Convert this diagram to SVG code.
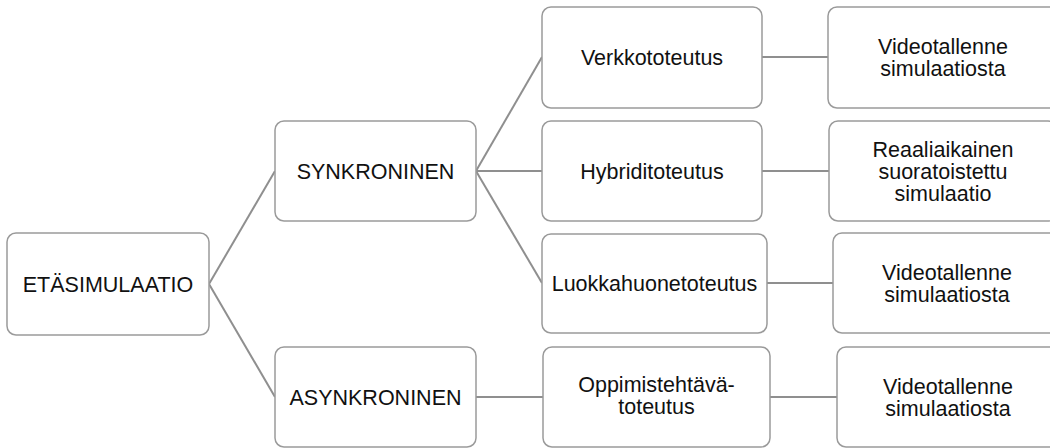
<svg xmlns="http://www.w3.org/2000/svg" width="1050" height="448" viewBox="0 0 1050 448">
<style>
.box{fill:#fff;stroke:#9a9a9a;stroke-width:1.5}
.lbl{font-family:"Liberation Sans",Arial,sans-serif;font-size:21.5px;fill:#111;text-anchor:middle}
.con{stroke:#8f8f8f;stroke-width:2;fill:none}
</style>
<rect width="1050" height="448" fill="#fff"/>
<g id="connectors">
<line class="con" x1="209" y1="284" x2="275" y2="171"/>
<line class="con" x1="209" y1="284" x2="275" y2="397"/>
<line class="con" x1="476" y1="171" x2="542" y2="57"/>
<line class="con" x1="476" y1="171" x2="542" y2="171"/>
<line class="con" x1="476" y1="171" x2="542" y2="283"/>
<line class="con" x1="476" y1="397" x2="543" y2="397"/>
<line class="con" x1="762" y1="57" x2="828" y2="57"/>
<line class="con" x1="762" y1="171" x2="829" y2="171"/>
<line class="con" x1="767" y1="283" x2="833" y2="283"/>
<line class="con" x1="770" y1="397" x2="837" y2="397"/>
</g>
<g id="etasimulaatio">
<rect class="box" x="7" y="233" width="202" height="102" rx="9"/>
<text class="lbl" x="108" y="292">ETÄSIMULAATIO</text>
</g>
<g id="synkroninen">
<rect class="box" x="275" y="121" width="201" height="100" rx="9"/>
<text class="lbl" x="375.5" y="179">SYNKRONINEN</text>
</g>
<g id="asynkroninen">
<rect class="box" x="275" y="347" width="201" height="100" rx="9"/>
<text class="lbl" x="375.5" y="405">ASYNKRONINEN</text>
</g>
<g id="verkkototeutus">
<rect class="box" x="542" y="7" width="220" height="101" rx="9"/>
<text class="lbl" x="652" y="65">Verkkototeutus</text>
</g>
<g id="hybriditoteutus">
<rect class="box" x="542" y="121" width="220" height="100" rx="9"/>
<text class="lbl" x="652" y="179">Hybriditoteutus</text>
</g>
<g id="luokkahuonetoteutus">
<rect class="box" x="542" y="234" width="225" height="99" rx="9"/>
<text class="lbl" x="654.5" y="291">Luokkahuonetoteutus</text>
</g>
<g id="oppimistehtava">
<rect class="box" x="543" y="347" width="227" height="100" rx="9"/>
<text class="lbl" x="656.5" y="392">Oppimistehtävä-</text>
<text class="lbl" x="656.5" y="414">toteutus</text>
</g>
<g id="video1">
<rect class="box" x="828" y="7" width="230" height="101" rx="9"/>
<text class="lbl" x="943" y="54">Videotallenne</text>
<text class="lbl" x="943" y="76">simulaatiosta</text>
</g>
<g id="reaaliaikainen">
<rect class="box" x="829" y="121" width="228" height="100" rx="9"/>
<text class="lbl" x="943" y="157">Reaaliaikainen</text>
<text class="lbl" x="943" y="179">suoratoistettu</text>
<text class="lbl" x="943" y="201">simulaatio</text>
</g>
<g id="video2">
<rect class="box" x="833" y="233" width="228" height="100" rx="9"/>
<text class="lbl" x="947" y="280">Videotallenne</text>
<text class="lbl" x="947" y="302">simulaatiosta</text>
</g>
<g id="video3">
<rect class="box" x="837" y="347" width="222" height="100" rx="9"/>
<text class="lbl" x="948" y="394">Videotallenne</text>
<text class="lbl" x="948" y="416">simulaatiosta</text>
</g>
</svg>
